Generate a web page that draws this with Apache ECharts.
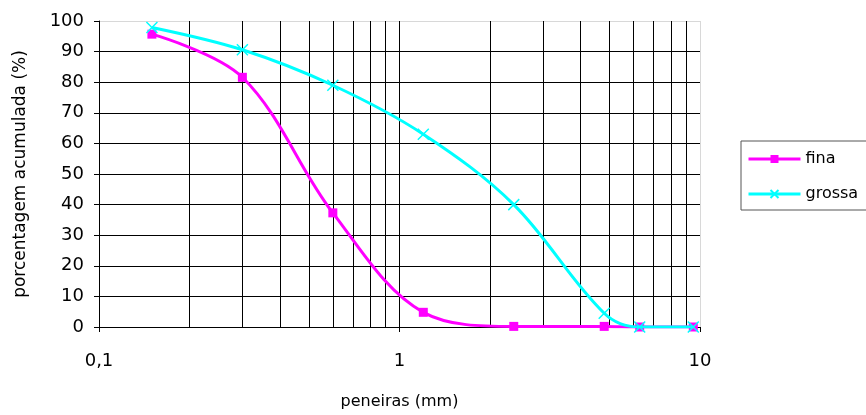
<!DOCTYPE html>
<html><head><meta charset="utf-8">
<script src="https://cdn.jsdelivr.net/npm/echarts@6/dist/echarts.min.js"></script>
<style>html,body{margin:0;padding:0;background:#fff}#c{width:866px;height:415px}</style>
</head><body><div id="c"></div>
<script>
const sieves = [0.15, 0.3, 0.6, 1.2, 2.4, 4.8, 6.3, 9.5];
const fina = [95.7, 81.6, 37.3, 4.8, 0.2, 0.2, 0, 0];
const grossa = [97.9, 90.6, 79, 63, 40, 4.5, 0, 0];
const minorGrid = [0.2,0.3,0.4,0.5,0.6,0.7,0.8,0.9,2,3,4,5,6,7,8,9];
const FONT = 'DejaVu Sans';
const chart = echarts.init(document.getElementById('c'));
const cross = 'path://M0,0L10,10M10,0L0,10';
const ySplitColors = ['#000','#000','#000','#000','#000','#000','#000','#000','#000','#000','#d8d8d8'];
chart.setOption({
  animation:false,
  textStyle:{fontFamily:FONT},
  grid:{left:99,right:166,top:21,bottom:87},
  xAxis:{type:'log',logBase:10,min:0.1,max:10,
    name:'peneiras (mm)',nameLocation:'middle',nameGap:67,
    nameTextStyle:{fontSize:16,color:'#000',fontFamily:FONT},
    axisLine:{show:true,lineStyle:{color:'#000'}},
    axisTick:{show:true,length:5,lineStyle:{color:'#000'}},
    axisLabel:{fontSize:18,color:'#000',margin:25,fontFamily:FONT,formatter:v=>String(v).replace('.',',')},
    splitLine:{show:true,lineStyle:{color:['#000','#000','#d8d8d8'],width:1}},
    minorTick:{show:false},minorSplitLine:{show:false}},
  yAxis:{type:'value',min:0,max:100,interval:10,
    name:'porcentagem acumulada (%)',nameLocation:'middle',nameGap:70,
    nameTextStyle:{fontSize:17,color:'#000',fontFamily:FONT},
    axisLine:{show:true,lineStyle:{color:'#000'}},
    axisTick:{show:true,length:5,lineStyle:{color:'#000'}},
    axisLabel:{fontSize:18,color:'#000',margin:15,fontFamily:FONT},
    splitLine:{show:true,lineStyle:{color:ySplitColors,width:1}}},
  legend:{orient:'vertical',left:741,top:141,
    padding:[10,12,8,6],itemGap:19,itemWidth:52,itemHeight:10,
    borderColor:'#555',borderWidth:1,backgroundColor:'#fff',
    lineStyle:{width:3},
    textStyle:{fontSize:16,color:'#000',fontFamily:FONT},
    data:['fina','grossa']},
  series:[
    {name:'fina',type:'line',smooth:0.35,data:sieves.map((x,i)=>[x,fina[i]]),
     symbol:'rect',symbolSize:9,lineStyle:{color:'#ff00ff',width:3},
     itemStyle:{color:'#ff00ff'},z:3,
     markLine:{silent:true,symbol:['none','none'],label:{show:false},
       lineStyle:{color:'#000',width:1,type:'solid'},
       data:minorGrid.map(v=>({xAxis:v})),z:1}},
    {name:'grossa',type:'line',smooth:0.35,data:sieves.map((x,i)=>[x,grossa[i]]),
     symbol:cross,symbolSize:11,lineStyle:{color:'#00ffff',width:3},
     itemStyle:{color:'#00ffff',borderColor:'#00ffff',borderWidth:1.5},z:4}
  ]
});
</script></body></html>
